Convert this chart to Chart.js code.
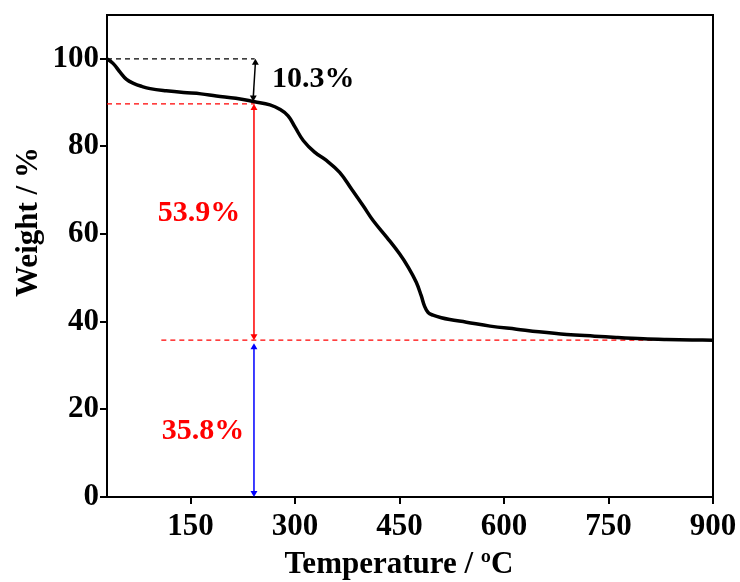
<!DOCTYPE html>
<html>
<head>
<meta charset="utf-8">
<script src="https://cdn.jsdelivr.net/npm/chart.js@4.4.1/dist/chart.umd.min.js"></script>
<style>
  html, body { margin: 0; padding: 0; background: #fff; }
</style>
</head>
<body>
<canvas id="tga" width="740" height="582"></canvas>
<script>
// TGA curve
const temps   = [30, 39, 49, 58, 68, 80, 92, 115, 140, 165, 187, 215, 242, 264, 278, 290, 300, 312, 328,
                 345, 364, 381, 398, 412, 432, 450, 463, 474, 481, 486, 491, 498, 510, 522, 546, 580, 618, 650,
                 690, 730, 761, 800, 833, 870, 900];
const weights = [100, 98.9, 96.9, 95.3, 94.4, 93.7, 93.2, 92.7, 92.3, 92.0, 91.5, 91.0, 90.2, 89.5, 88.5, 87.0,
                 84.4, 81.3, 78.7, 76.8, 74.1, 70.3, 66.4, 63.1, 59.2, 55.5, 52.3, 49.0, 46.0, 43.5, 42.1,
                 41.5, 40.9, 40.5, 39.9, 39.0, 38.3, 37.7, 37.1, 36.7, 36.4, 36.1, 35.95, 35.85, 35.8];

const xTicks = [150, 300, 450, 600, 750, 900];
const yTicks = [0, 20, 40, 60, 80, 100];

// step levels and where the arrows stand
const levels = [100, 89.7, 35.8];
const stepTemp = 241;
const stepLabels = ['10.3%', '53.9%', '35.8%'];

const serif = '"Liberation Serif", "Times New Roman", serif';

function seg(x1, y1, x2, y2) {
  return [{ x: x1, y: y1 }, { x: x2, y: y2 }];
}

function dashed(data, color) {
  return {
    data: data,
    borderColor: color,
    borderWidth: 1.3,
    borderDash: [5, 4],
    pointRadius: 0,
    fill: false
  };
}

function arrow(data, color) {
  return {
    data: data,
    borderColor: color,
    backgroundColor: color,
    borderWidth: 1.5,
    pointStyle: 'triangle',
    pointRadius: 4,
    pointRotation: [0, 180],
    pointBorderWidth: 0,
    fill: false
  };
}

const frame = {
  id: 'frame',
  afterDatasetsDraw(chart) {
    const { ctx, chartArea: a } = chart;
    ctx.save();
    ctx.strokeStyle = '#000';
    ctx.lineWidth = 2;
    ctx.beginPath();
    ctx.moveTo(a.left, a.top);
    ctx.lineTo(a.right, a.top);
    ctx.lineTo(a.right, a.bottom);
    ctx.stroke();
    ctx.restore();
  },
  afterDraw(chart) {
    const { ctx, scales } = chart;
    const sx = scales.x, sy = scales.y;
    ctx.save();
    ctx.font = 'bold 30px ' + serif;
    ctx.textBaseline = 'middle';

    ctx.fillStyle = '#000';
    ctx.textAlign = 'left';
    ctx.fillText(stepLabels[0], sx.getPixelForValue(267), sy.getPixelForValue(95.4));

    ctx.fillStyle = '#ff0000';
    ctx.textAlign = 'center';
    ctx.fillText(stepLabels[1], sx.getPixelForValue(162), sy.getPixelForValue(64.7));
    ctx.fillText(stepLabels[2], sx.getPixelForValue(168), sy.getPixelForValue(14.9));

    // axis titles
    ctx.fillStyle = '#000';
    ctx.font = 'bold 31px ' + serif;
    ctx.textBaseline = 'alphabetic';
    ctx.fillText('Temperature / \u00baC', 399, 573);
    ctx.translate(37, 222);
    ctx.rotate(-Math.PI / 2);
    ctx.fillText('Weight / %', 0, 0);
    ctx.restore();
  }
};

const tickFont = { family: serif, size: 31, weight: 'bold' };

new Chart(document.getElementById('tga').getContext('2d'), {
  type: 'line',
  data: {
    datasets: [
      {
        data: temps.map((t, i) => ({ x: t, y: weights[i] })),
        borderColor: '#000',
        borderWidth: 3.5,
        pointRadius: 0,
        tension: 0.4,
        fill: false
      },
      dashed(seg(30, levels[0], stepTemp + 1, levels[0]), '#000'),
      dashed(seg(30, levels[1], stepTemp + 1, levels[1]), '#ff0000'),
      dashed(seg(108, levels[2], 900, levels[2]), '#ff0000'),
      arrow(seg(stepTemp + 2, 99.1, stepTemp - 1, 91.2), '#000'),
      arrow(seg(stepTemp, 88.8, stepTemp, 36.7), '#ff0000'),
      arrow(seg(stepTemp, 34.2, stepTemp, 0.9), '#0000ff')
    ]
  },
  options: {
    responsive: false,
    devicePixelRatio: 1,
    animation: false,
    layout: { padding: { left: 0, top: 15, right: 27, bottom: 0 } },
    plugins: { legend: { display: false }, tooltip: { enabled: false } },
    scales: {
      x: {
        type: 'linear',
        min: 30,
        max: 900,
        afterBuildTicks: s => { s.ticks = xTicks.map(v => ({ value: v })); },
        afterFit: s => { s.height = 85; s.paddingLeft = 0; s.paddingRight = 0; },
        border: { color: '#000', width: 2 },
        grid: { drawOnChartArea: false, drawTicks: true, tickLength: 7, color: '#000', lineWidth: 2 },
        ticks: { color: '#000', font: tickFont, padding: 4, maxRotation: 0, autoSkip: false }
      },
      y: {
        type: 'linear',
        min: 0,
        max: 110,
        afterBuildTicks: s => { s.ticks = yTicks.map(v => ({ value: v })); },
        afterFit: s => { s.width = 107; s.paddingTop = 0; s.paddingBottom = 0; },
        border: { color: '#000', width: 2 },
        grid: { drawOnChartArea: false, drawTicks: true, tickLength: 7, color: '#000', lineWidth: 2 },
        ticks: { color: '#000', font: tickFont, padding: 1, autoSkip: false }
      }
    }
  },
  plugins: [frame]
});
</script>
</body>
</html>
